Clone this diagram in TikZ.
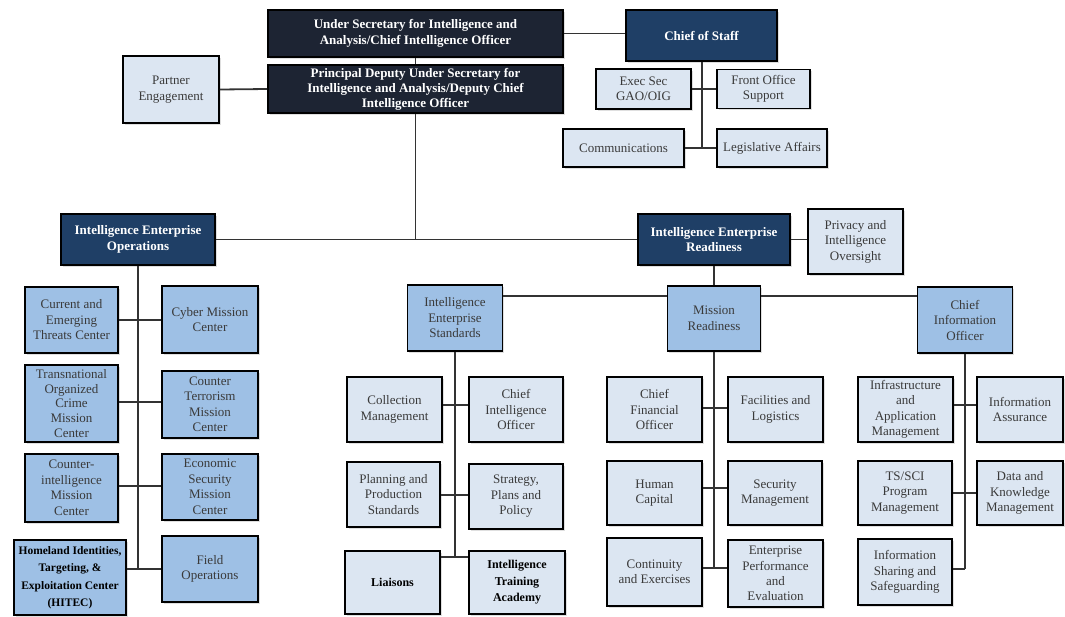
\documentclass[tikz,border=0pt]{standalone}
\usepackage{fontspec}
\setmainfont{Liberation Serif}
\usetikzlibrary{shadows}

\definecolor{navy}{HTML}{1D2433}
\definecolor{deptblue}{HTML}{1F3F66}
\definecolor{midblue}{HTML}{9EC0E5}
\definecolor{leafblue}{HTML}{DCE6F2}
\definecolor{textgray}{HTML}{3A3A3A}
\definecolor{linegray}{HTML}{333333}

\tikzset{
    box/.style={draw=black, line width=1.8pt, align=center, inner sep=2pt,
        text=textgray, font=\fontsize{13}{15.5}\selectfont,
        drop shadow={opacity=0.25, shadow xshift=1.5pt, shadow yshift=-1.5pt}},
    sz/.style 2 args={minimum width=#1, minimum height=#2},
    exec/.style={box, fill=navy, text=white, font=\fontsize{13}{15.5}\selectfont\bfseries},
    dept/.style={box, fill=deptblue, text=white, font=\fontsize{13}{15.5}\selectfont\bfseries},
    mid/.style={box, fill=midblue},
    leaf/.style={box, fill=leafblue},
    heavy/.style={text=black, font=\fontsize{12}{16.5}\selectfont\bfseries},
    link/.style={draw=linegray, line width=1.8pt},
}

\begin{document}
\begin{tikzpicture}[x=1pt, y=-1pt]
    \useasboundingbox[fill=white] (0,0) rectangle (1065,616);

    % front office
    \node[exec, sz={295}{47}] (usec) at (415.5, 33.5) {Under Secretary for Intelligence and\\Analysis/Chief Intelligence Officer};
    \node[exec, sz={295}{48}, font=\fontsize{13}{15}\selectfont\bfseries] (pdus) at (415.5, 89) {Principal Deputy Under Secretary for\\Intelligence and Analysis/Deputy Chief\\Intelligence Officer};
    \node[dept, sz={151}{51}] (cos) at (701.5, 35.5) {Chief of Staff};
    \node[leaf, sz={96}{67}] (partner) at (171, 89.5) {Partner\\Engagement};
    \node[leaf, sz={95}{40}] (execsec) at (643.5, 89) {Exec Sec\\GAO/OIG};
    \node[leaf, sz={93}{39}] (frontoff) at (763.5, 89) {Front Office\\Support};
    \node[leaf, sz={121}{38}] (comms) at (623.5, 148) {Communications};
    \node[leaf, sz={110}{38}] (legis) at (772, 148) {Legislative Affairs};

    % the two enterprise offices
    \node[dept, sz={154}{51}] (ieo) at (138, 239.5) {Intelligence Enterprise\\Operations};
    \node[dept, sz={152}{51}] (ier) at (714, 239.5) {Intelligence Enterprise\\Readiness};
    \node[leaf, sz={95}{65}] (privacy) at (855.5, 241.5) {Privacy and\\Intelligence\\Oversight};

    % operations column
    \node[mid, sz={93}{66}] (cetc) at (71.5, 320) {Current and\\Emerging\\Threats Center};
    \node[mid, sz={96}{67}] (cyber) at (210, 319.5) {Cyber Mission\\Center};
    \node[mid, sz={93}{77}, font=\fontsize{13}{14.6}\selectfont] (tocmc) at (71.5, 403.5) {Transnational\\Organized\\Crime\\Mission\\Center};
    \node[mid, sz={96}{67}] (ctmc) at (210, 404.5) {Counter\\Terrorism\\Mission\\Center};
    \node[mid, sz={93}{68}] (cimc) at (71.5, 488) {Counter-\\intelligence\\Mission\\Center};
    \node[mid, sz={96}{66}] (esmc) at (210, 487) {Economic\\Security\\Mission\\Center};
    \node[mid, sz={112}{75}, heavy, font=\fontsize{11.5}{17.5}\selectfont\bfseries] (hitec) at (70, 577.5) {Homeland Identities,\\Targeting, \&\\Exploitation Center\\(HITEC)};
    \node[mid, sz={96}{66}] (fieldops) at (210, 569) {Field\\Operations};

    % readiness offices
    \node[mid, sz={95}{66}] (ies) at (455, 318) {Intelligence\\Enterprise\\Standards};
    \node[mid, sz={93}{65}] (mr) at (714, 318.5) {Mission\\Readiness};
    \node[mid, sz={95}{66}] (cio) at (965, 320) {Chief\\Information\\Officer};

    % standards
    \node[leaf, sz={95}{65}] (colmgmt) at (394.5, 409.5) {Collection\\Management};
    \node[leaf, sz={94}{65}] (chintel) at (516, 409.5) {Chief\\Intelligence\\Officer};
    \node[leaf, sz={93}{65}] (pps) at (393.5, 494.5) {Planning and\\Production\\Standards};
    \node[leaf, sz={94}{65}] (spp) at (516, 496.5) {Strategy,\\Plans and\\Policy};
    \node[leaf, sz={95}{63}, heavy] (liaisons) at (392.5, 582.5) {Liaisons};
    \node[leaf, sz={96}{63}, heavy] (ita) at (517, 582.5) {Intelligence\\Training\\Academy};

    % mission readiness
    \node[leaf, sz={95}{65}] (cfo) at (654.5, 409.5) {Chief\\Financial\\Officer};
    \node[leaf, sz={95}{65}] (facil) at (775.5, 409.5) {Facilities and\\Logistics};
    \node[leaf, sz={95}{64}] (hcap) at (654.5, 493) {Human\\Capital};
    \node[leaf, sz={94}{64}] (secmgmt) at (775, 493) {Security\\Management};
    \node[leaf, sz={95}{68}] (contex) at (654.5, 572) {Continuity\\and Exercises};
    \node[leaf, sz={95}{67}] (epe) at (775.5, 573.5) {Enterprise\\Performance\\and\\Evaluation};

    % information officer
    \node[leaf, sz={95}{65}] (iam) at (905.5, 409.5) {Infrastructure\\and\\Application\\Management};
    \node[leaf, sz={86}{65}] (infoas) at (1020, 409.5) {Information\\Assurance};
    \node[leaf, sz={94}{64}] (tssci) at (905, 493) {TS/SCI\\Program\\Management};
    \node[leaf, sz={86}{64}] (dkm) at (1020, 493) {Data and\\Knowledge\\Management};
    \node[leaf, sz={94}{66}] (iss) at (905, 572) {Information\\Sharing and\\Safeguarding};

    % junctions
    \coordinate (cosbot) at (702, 149);
    \coordinate (trunk) at (415.5, 239.5);
    \coordinate (rbar) at (714, 296);
    \coordinate (l1) at (138, 320);
    \coordinate (l2) at (138, 402);
    \coordinate (l3) at (138, 486);
    \coordinate (l4) at (138, 569);
    \coordinate (s1) at (455, 405);
    \coordinate (s2) at (455, 495);
    \coordinate (s3) at (455, 557);
    \coordinate (m1) at (714, 408);
    \coordinate (m2) at (714, 488);
    \coordinate (m3) at (714, 568);
    \coordinate (c1) at (965, 405);
    \coordinate (c2) at (965, 493);
    \coordinate (c3) at (965, 569);

    \draw[link] (usec.east) -- (usec.east -| cos.west);
    \draw[link] (usec.south) -- (pdus.north);
    \draw[link] (partner.east) -- (pdus.west);
    \draw[link] (cos.south -| cosbot) -- (cosbot);
    \draw[link] (execsec.east) -- (frontoff.west);
    \draw[link] (comms.east) -- (legis.west);
    \draw[link] (pdus.south) -- (trunk);
    \draw[link] (ieo.east) -- (ier.west);
    \draw[link] (ier.east) -- (privacy.west |- ier.east);
    \draw[link] (ier.south) -- (mr.north);
    \draw[link] (ies.east |- rbar) -- (mr.west |- rbar);
    \draw[link] (mr.east |- rbar) -- (cio.west |- rbar);
    % operations
    \draw[link] (ieo.south) -- (l4);
    \draw[link] (cetc.east |- l1) -- (cyber.west |- l1);
    \draw[link] (tocmc.east |- l2) -- (ctmc.west |- l2);
    \draw[link] (cimc.east |- l3) -- (esmc.west |- l3);
    \draw[link] (hitec.east |- l4) -- (fieldops.west |- l4);
    % standards
    \draw[link] (ies.south) -- (s3);
    \draw[link] (colmgmt.east |- s1) -- (chintel.west |- s1);
    \draw[link] (pps.east |- s2) -- (spp.west |- s2);
    \draw[link] (liaisons.east |- s3) -- (ita.west |- s3);
    % mission readiness
    \draw[link] (mr.south) -- (m3);
    \draw[link] (cfo.east |- m1) -- (facil.west |- m1);
    \draw[link] (hcap.east |- m2) -- (secmgmt.west |- m2);
    \draw[link] (contex.east |- m3) -- (epe.west |- m3);
    % information officer
    \draw[link] (cio.south) -- (c3);
    \draw[link] (iam.east |- c1) -- (infoas.west |- c1);
    \draw[link] (tssci.east |- c2) -- (dkm.west |- c2);
    \draw[link] (iss.east |- c3) -- (c3);
\end{tikzpicture}
\end{document}
